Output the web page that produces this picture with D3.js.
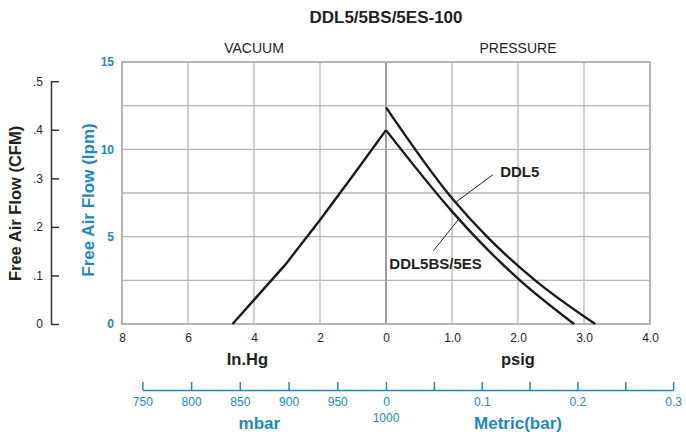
<!DOCTYPE html>
<html>
<head>
<meta charset="utf-8">
<script src="https://cdn.jsdelivr.net/npm/d3@7"></script>
<style>
  body { margin: 0; background: #fff; }
  svg { font-family: "Liberation Sans", Arial, Helvetica, sans-serif; }
</style>
</head>
<body>
<div id="viz"></div>
<script>
const width = 686;
const height = 432;
const margins = { left: 122, right: 36, top: 62, bottom: 108 };
const visWidth = width - margins.left - margins.right;
const visHeight = height - margins.top - margins.bottom;

const blue = "#1a87c9";
const dark = "#231f20";
const gridColor = "#b4b4b9";

// vacuum side (in.Hg) - shared by both models
const vacInHg = [0, 1, 2, 3.05, 4.65];
const vacFlow = [11.1, 8.5, 5.95, 3.4, 0];

// pressure side (psig)
const ddl5Psi = [0, 1.0, 1.53, 2.26, 3.17];
const ddl5Flow = [12.4, 7.2, 5.0, 2.5, 0];
const ddl5bsPsi = [0, 1.0, 1.4, 2.0, 2.85];
const ddl5bsFlow = [11.1, 6.45, 4.8, 2.6, 0];

// tick labels
const vacTicks = [8, 6, 4, 2, 0];
const psiTicks = [1, 2, 3, 4];
const lpmTicks = [0, 5, 10, 15];
const lpmGrid = [2.5, 5, 7.5, 10, 12.5];
const cfmTicks = [0, 0.1, 0.2, 0.3, 0.4, 0.5];
const mbarTicks = [750, 800, 850, 900, 950, 1000];
const barTicks = [0.05, 0.1, 0.15, 0.2, 0.25, 0.3];
const barLabeled = [0.1, 0.2, 0.3];

const svg = d3.select('#viz')
    .append("svg")
    .attr('width', width)
    .attr('height', height)
    .append("g")
    .attr("transform", `translate(${margins.left}, ${margins.top})`);

// two half-scales for x: vacuum on left, pressure on right
const xVac = d3.scaleLinear().domain([8, 0]).range([0, visWidth / 2]);
const xPsi = d3.scaleLinear().domain([0, 4]).range([visWidth / 2, visWidth]);
const yScale = d3.scaleLinear().domain([0, 15]).range([visHeight, 0]);
const yCfm = d3.scaleLinear().domain([0, 0.5]).range([visHeight, yScale(13.9)]);

// metric scales from unit conversion
const inHgPerMbar = 1 / 33.8639;
const psiPerBar = 14.5038;
const xMbar = d3.scaleLinear().domain([750, 1000])
    .range([xVac(250 * inHgPerMbar), xVac(0)]);
const xBar = d3.scaleLinear().domain([0, 0.3])
    .range([xPsi(0), xPsi(0.3 * psiPerBar)]);

// grid
const grid = svg.append("g");
grid.selectAll("line.h")
    .data(lpmGrid)
    .enter()
    .append("line")
    .attr("x1", 0).attr("x2", visWidth)
    .attr("y1", d => yScale(d)).attr("y2", d => yScale(d))
    .attr("stroke", gridColor).attr("stroke-width", 1.3);
grid.selectAll("line.v")
    .data([6, 4, 2].map(xVac).concat([1, 2, 3].map(xPsi)))
    .enter()
    .append("line")
    .attr("x1", d => d).attr("x2", d => d)
    .attr("y1", 0).attr("y2", visHeight)
    .attr("stroke", gridColor).attr("stroke-width", 1.3);
grid.append("line")
    .attr("x1", xVac(0)).attr("x2", xVac(0))
    .attr("y1", 0).attr("y2", visHeight)
    .attr("stroke", "#9d9da3").attr("stroke-width", 2);
grid.append("rect")
    .attr("width", visWidth).attr("height", visHeight)
    .attr("fill", "none")
    .attr("stroke", gridColor).attr("stroke-width", 2);

// lpm axis (blue)
const yAxis = svg.append("g")
    .call(d3.axisLeft(yScale).tickValues(lpmTicks).tickSize(0).tickPadding(8));
yAxis.select(".domain").remove();
yAxis.selectAll("text").attr("fill", blue).attr("font-size", 12).attr("font-weight", "bold");

// cfm axis (separate)
const cfmAxis = svg.append("g")
    .attr("transform", `translate(${-71}, 0)`)
    .call(d3.axisLeft(yCfm).tickValues(cfmTicks)
        .tickSizeInner(-8).tickSizeOuter(0).tickPadding(8)
        .tickFormat(d => d === 0 ? "0" : d3.format(".1f")(d).replace(/^0/, "")));
cfmAxis.select(".domain").attr("stroke", "#333").attr("stroke-width", 1.5);
cfmAxis.selectAll("line").attr("stroke", "#333").attr("stroke-width", 1.5);
cfmAxis.selectAll("text").attr("fill", dark).attr("font-size", 12);

// bottom tick labels
const vacAxis = svg.append("g")
    .attr("transform", `translate(0, ${visHeight})`)
    .call(d3.axisBottom(xVac).tickValues(vacTicks).tickSize(0).tickPadding(9));
const psiAxis = svg.append("g")
    .attr("transform", `translate(0, ${visHeight})`)
    .call(d3.axisBottom(xPsi).tickValues(psiTicks).tickSize(0).tickPadding(9)
        .tickFormat(d3.format(".1f")));
[vacAxis, psiAxis].forEach(a => {
    a.select(".domain").remove();
    a.selectAll("text").attr("fill", dark).attr("font-size", 12);
});

// metric axis
const metricY = 328;
const mbarAxis = svg.append("g")
    .attr("transform", `translate(0, ${metricY})`)
    .call(d3.axisBottom(xMbar).tickValues(mbarTicks)
        .tickSizeInner(-8).tickSizeOuter(0).tickPadding(7)
        .tickFormat(d => d === 1000 ? "0" : d));
const barAxis = svg.append("g")
    .attr("transform", `translate(0, ${metricY})`)
    .call(d3.axisBottom(xBar).tickValues(barTicks)
        .tickSizeInner(-8).tickSizeOuter(0).tickPadding(7)
        .tickFormat(d => barLabeled.some(b => Math.abs(b - d) < 1e-9) ? d3.format(".1f")(d) : ""));
[mbarAxis, barAxis].forEach(a => {
    a.select(".domain").attr("stroke", blue).attr("stroke-width", 1.5);
    a.selectAll("line").attr("stroke", blue).attr("stroke-width", 1.5);
    a.selectAll("text").attr("fill", blue).attr("font-size", 12);
});
svg.append("text")
    .attr("x", xMbar(1000)).attr("y", metricY + 32)
    .attr("text-anchor", "middle")
    .attr("fill", blue).attr("font-size", 12)
    .text("1000");

// curves
const line = d3.line()
    .x(d => d[0]).y(d => d[1]);
const vacPts = vacInHg.map((v, i) => [xVac(v), yScale(vacFlow[i])]);
const ddl5Pts = ddl5Psi.map((v, i) => [xPsi(v), yScale(ddl5Flow[i])]);
const ddl5bsPts = ddl5bsPsi.map((v, i) => [xPsi(v), yScale(ddl5bsFlow[i])]);

svg.append("path")
    .attr("d", line(vacPts))
    .attr("fill", "none").attr("stroke", "#1a1a1a").attr("stroke-width", 2.4);
[ddl5Pts, ddl5bsPts].forEach(pts => {
    svg.append("path")
        .attr("d", line.curve(d3.curveMonotoneX)(pts))
        .attr("fill", "none").attr("stroke", "#1a1a1a").attr("stroke-width", 2.4);
});

// annotations
svg.append("line")
    .attr("x1", xPsi(1.05)).attr("y1", yScale(6.95))
    .attr("x2", xPsi(1.62)).attr("y2", yScale(8.55))
    .attr("stroke", "#222").attr("stroke-width", 1);
svg.append("text")
    .attr("x", xPsi(1.73)).attr("y", yScale(8.4))
    .attr("fill", dark).attr("font-size", 15).attr("font-weight", "bold")
    .text("DDL5");
svg.append("line")
    .attr("x1", xPsi(1.1)).attr("y1", yScale(6.0))
    .attr("x2", xPsi(0.72)).attr("y2", yScale(4.2))
    .attr("stroke", "#222").attr("stroke-width", 1);
svg.append("text")
    .attr("x", xPsi(0.05)).attr("y", yScale(3.15))
    .attr("fill", dark).attr("font-size", 15).attr("font-weight", "bold")
    .text("DDL5BS/5ES");

// titles
svg.append("text")
    .attr("x", xVac(0)).attr("y", 23 - margins.top)
    .attr("text-anchor", "middle")
    .attr("fill", dark).attr("font-size", 17).attr("font-weight", "bold")
    .text("DDL5/5BS/5ES-100");
svg.append("text")
    .attr("x", xVac(4)).attr("y", 53 - margins.top)
    .attr("text-anchor", "middle")
    .attr("fill", dark).attr("font-size", 14)
    .text("VACUUM");
svg.append("text")
    .attr("x", xPsi(2)).attr("y", 53 - margins.top)
    .attr("text-anchor", "middle")
    .attr("fill", dark).attr("font-size", 14)
    .text("PRESSURE");

svg.append("text")
    .attr("x", xVac(4.2)).attr("y", visHeight + 41)
    .attr("text-anchor", "middle")
    .attr("fill", dark).attr("font-size", 16.5).attr("font-weight", "bold")
    .text("In.Hg");
svg.append("text")
    .attr("x", xPsi(2)).attr("y", visHeight + 41)
    .attr("text-anchor", "middle")
    .attr("fill", dark).attr("font-size", 16.5).attr("font-weight", "bold")
    .text("psig");
svg.append("text")
    .attr("x", xMbar(870)).attr("y", metricY + 39)
    .attr("text-anchor", "middle")
    .attr("fill", blue).attr("font-size", 17).attr("font-weight", "bold")
    .text("mbar");
svg.append("text")
    .attr("x", xPsi(2)).attr("y", metricY + 39)
    .attr("text-anchor", "middle")
    .attr("fill", blue).attr("font-size", 17).attr("font-weight", "bold")
    .text("Metric(bar)");

// y titles
svg.append("text")
    .attr("transform", `translate(${21 - margins.left}, ${yScale(6.9)}) rotate(-90)`)
    .attr("text-anchor", "middle")
    .attr("fill", dark).attr("font-size", 16.5).attr("font-weight", "bold")
    .text("Free Air Flow (CFM)");
svg.append("text")
    .attr("transform", `translate(${94 - margins.left}, ${yScale(7.1)}) rotate(-90)`)
    .attr("text-anchor", "middle")
    .attr("fill", blue).attr("font-size", 17).attr("font-weight", "bold")
    .text("Free Air Flow (lpm)");
</script>
</body>
</html>
